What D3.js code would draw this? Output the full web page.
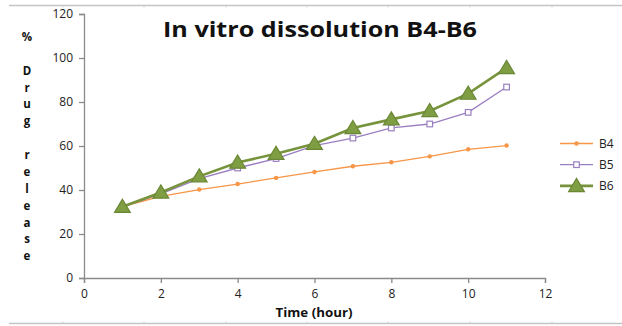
<!DOCTYPE html>
<html>
<head>
<meta charset="utf-8">
<script src="https://cdn.jsdelivr.net/npm/d3@7"></script>
<style>
  body { margin: 0; background: #fff; }
  svg { display: block; font-family: "Open Sans", "DejaVu Sans", sans-serif; }
</style>
</head>
<body>
<svg></svg>
<script>
const SVG_WIDTH = 622, SVG_HEIGHT = 326;
const MARGIN = { top: 14, right: 77, bottom: 48, left: 84 };

const hours = [1, 2, 3, 4, 5, 6, 7, 8, 9, 10, 11];
const b4 = [32.5, 37.1, 40.2, 42.7, 45.5, 48.2, 50.8, 52.6, 55.3, 58.5, 60.2];
const b5 = [32.3, 38.2, 45.2, 50.0, 54.3, 60.2, 63.6, 68.2, 70.0, 75.3, 86.8];
const b6 = [32.4, 38.9, 46.2, 52.5, 56.5, 61.0, 68.2, 72.1, 75.9, 83.8, 95.5];
const xTicks = [0, 2, 4, 6, 8, 10, 12];
const yTicks = [0, 20, 40, 60, 80, 100, 120];
const yLabel = ["%", "", "D", "r", "u", "g", "", "r", "e", "l", "e", "a", "s", "e"];

const series = [
    { name: "B4", values: b4, color: "#F79646", width: 1.3, marker: "dot" },
    { name: "B5", values: b5, color: "#9A7FC0", width: 1.3, marker: "square" },
    { name: "B6", values: b6, color: "#77933C", width: 2.6, marker: "triangle" }
];

var svg = d3.select("svg")
    .attr("width", SVG_WIDTH)
    .attr("height", SVG_HEIGHT);

// page frame lines (top and bottom) with small ticks
var frameTicks = [63, 144, 226, 307, 388, 470, 552];
[[5.5, 1], [323.5, -1]].forEach(function(f) {
    svg.append("line")
        .attr("x1", 9).attr("x2", 622).attr("y1", f[0]).attr("y2", f[0])
        .attr("stroke", "#c4c4c4").attr("stroke-width", 1.6);
    frameTicks.forEach(function(t) {
        svg.append("line")
            .attr("x1", t).attr("x2", t).attr("y1", f[0]).attr("y2", f[0] + 2 * f[1])
            .attr("stroke", "#d0d0d0").attr("stroke-width", 1);
    });
});

var x = d3.scaleLinear().domain([0, 12]).range([MARGIN.left, SVG_WIDTH - MARGIN.right]);
var y = d3.scaleLinear().domain([0, 120]).range([SVG_HEIGHT - MARGIN.bottom, MARGIN.top]);

var xAxis = svg.append("g")
    .attr("transform", "translate(0," + y(0) + ")")
    .call(d3.axisBottom(x).tickValues(xTicks).tickSize(5).tickPadding(6));
var yAxis = svg.append("g")
    .attr("transform", "translate(" + x(0) + ",0)")
    .call(d3.axisLeft(y).tickValues(yTicks).tickSize(5).tickPadding(6));

[xAxis, yAxis].forEach(function(a) {
    a.selectAll("path, line").attr("stroke", "#8a8a8a").attr("stroke-width", 1.3);
    a.selectAll("text")
        .attr("fill", "#222")
        .style("font-size", "12px")
        .style("font-family", "'Open Sans', sans-serif");
});

// title
svg.append("text")
    .attr("x", 320).attr("y", 37)
    .attr("text-anchor", "middle")
    .attr("textLength", 314).attr("lengthAdjust", "spacingAndGlyphs")
    .style("font-size", "21px").style("font-weight", "bold")
    .attr("fill", "#111")
    .text("In vitro dissolution B4-B6");

// x axis title
svg.append("text")
    .attr("x", 314).attr("y", 317)
    .attr("text-anchor", "middle")
    .attr("textLength", 77).attr("lengthAdjust", "spacingAndGlyphs")
    .style("font-size", "12px").style("font-weight", "bold")
    .attr("fill", "#111")
    .text("Time (hour)");

// y axis title, one letter per line
svg.append("g").selectAll("text").data(yLabel).enter().append("text")
    .attr("x", 27)
    .attr("y", function(d, i) { return 41 + i * 16.87; })
    .attr("text-anchor", "middle")
    .style("font-size", "11.5px").style("font-weight", "bold")
    .attr("fill", "#111")
    .text(function(d) { return d; });

var line = d3.line()
    .x(function(d, i) { return x(hours[i]); })
    .y(function(d) { return y(d); });

function drawMarker(g, type, color, cx, cy) {
    if (type == "dot") {
        g.append("circle").attr("cx", cx).attr("cy", cy).attr("r", 2.2).attr("fill", color);
    } else if (type == "square") {
        g.append("rect").attr("x", cx - 2.8).attr("y", cy - 2.8).attr("width", 5.6).attr("height", 5.6)
            .attr("fill", "#fff").attr("stroke", color).attr("stroke-width", 1.2);
    } else {
        var s = 7.5;
        g.append("path")
            .attr("d", "M" + cx + "," + (cy - s) + "L" + (cx + s * 1.05) + "," + (cy + s * 0.75) + "L" + (cx - s * 1.05) + "," + (cy + s * 0.75) + "Z")
            .attr("fill", "#7F9D42").attr("stroke", "#6A8734").attr("stroke-width", 1.2);
    }
}

series.forEach(function(s) {
    var g = svg.append("g");
    g.append("path")
        .datum(s.values)
        .attr("d", line)
        .attr("fill", "none")
        .attr("stroke", s.color)
        .attr("stroke-width", s.width);
    s.values.forEach(function(v, i) {
        drawMarker(g, s.marker, s.color, x(hours[i]), y(v));
    });
});

// legend
var legend = svg.append("g");
series.forEach(function(s, i) {
    var ly = 143.5 + i * 21.2;
    legend.append("line")
        .attr("x1", 560).attr("x2", 593).attr("y1", ly).attr("y2", ly)
        .attr("stroke", s.color).attr("stroke-width", s.width);
    drawMarker(legend, s.marker, s.color, 576.5, ly);
    legend.append("text")
        .attr("x", 599).attr("y", ly + 4)
        .style("font-size", "12px")
        .attr("fill", "#222")
        .text(s.name);
});
</script>
</body>
</html>
